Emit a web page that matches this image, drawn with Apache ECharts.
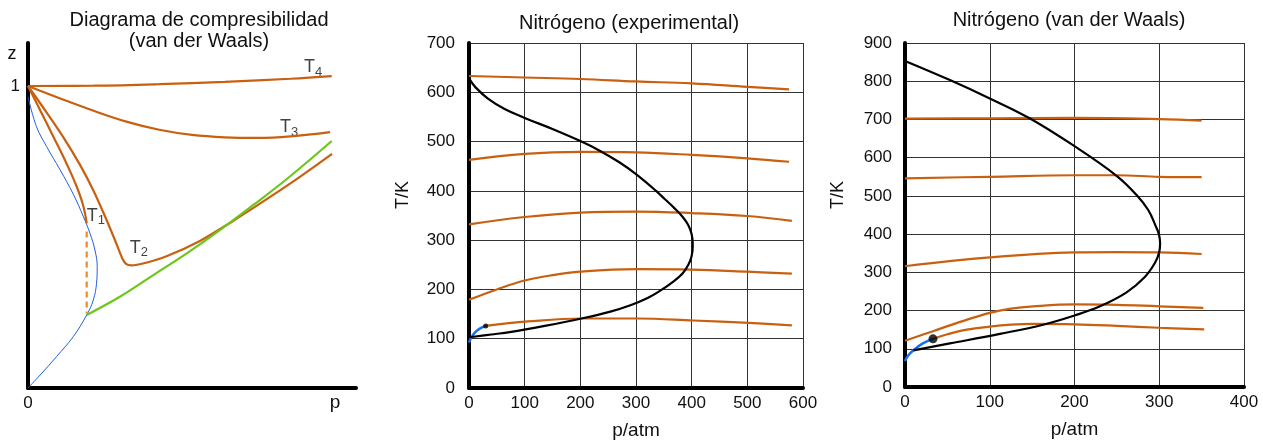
<!DOCTYPE html>
<html>
<head>
<meta charset="UTF-8">
<title>Nitrógeno</title>
<script src="https://cdn.jsdelivr.net/npm/echarts@6/dist/echarts.min.js"></script>
<style>
  html, body { margin: 0; padding: 0; background: #fff; }
  #main { width: 1263px; height: 441px; }
</style>
</head>
<body>
<div id="main"></div>
<script>
// --- panel 1: diagrama de compresibilidad (p y z en unidades arbitrarias)
var zT4 = [[0, 1.0], [2, 1.001], [4, 1.006], [6, 1.014], [8, 1.024], [9.26, 1.033]];
var zT3 = [[0, 1.0], [1, 0.958], [2, 0.918], [3, 0.882], [4, 0.855], [5, 0.838], [6, 0.83], [7, 0.828],
           [8, 0.833], [9.21, 0.847]];
var zT2 = [[0, 1.0], [0.57, 0.912], [1.08, 0.83], [1.59, 0.738], [1.99, 0.655], [2.35, 0.568], [2.65, 0.49],
           [2.88, 0.428], [3.0, 0.41], [3.15, 0.406], [3.57, 0.414], [4.24, 0.437], [5.24, 0.487],
           [6.25, 0.553], [7.29, 0.626], [8.29, 0.699], [9.27, 0.775]];
var zT1 = [[0, 1.0], [0.37, 0.92], [0.77, 0.833], [1.18, 0.742], [1.48, 0.668], [1.68, 0.605], [1.79, 0.545]];
var zT1dash = [[1.79, 0.518], [1.79, 0.247]];
var zGreen = [[1.79, 0.242], [2.8, 0.302], [3.82, 0.374], [4.84, 0.446], [5.85, 0.523], [6.87, 0.606],
              [7.89, 0.692], [9.26, 0.818]];
var zBlue = [[0, 0.965], [0.26, 0.865], [0.57, 0.799], [0.98, 0.722], [1.38, 0.642], [1.69, 0.567], [1.89, 0.512],
             [2.04, 0.457], [2.11, 0.402], [2.09, 0.347], [1.99, 0.291], [1.79, 0.242], [1.38, 0.17],
             [0.87, 0.104], [0.37, 0.043], [0, 0]];
var zLabels = [[8.69, 1.063, '4'], [7.96, 0.864, '3'], [2.07, 0.57, '1'], [3.38, 0.464, '2']];

// --- panel 2: nitrógeno experimental (p/atm, T/K)
var expIsotherms = [
  [[0, 633], [100, 630], [200, 627], [300, 622], [400, 618], [500, 611], [575, 606]],
  [[0, 463], [100, 475], [200, 479], [300, 478], [400, 473], [500, 466], [575, 459]],
  [[0, 332], [100, 347], [200, 356], [300, 358], [400, 355], [500, 349], [580, 339]],
  [[0, 179], [50, 200], [100, 218], [150, 229], [200, 236], [300, 241], [400, 240], [500, 236], [580, 232]],
  [[30, 126], [106, 135], [202, 141], [302, 141], [403, 137], [503, 132], [580, 127]]
];
var expLiquid = [[0, 92], [4, 102], [10, 112], [20, 121], [30, 126]];
var expBoundary = [[1, 103], [40, 108.5], [76, 114], [136, 126], [202, 141], [254, 155], [290, 168], [320, 182],
                   [343, 197], [367, 216], [384, 233], [394, 250], [400, 268], [402, 290], [400, 312], [394, 330],
                   [384, 347], [368, 366], [352, 383], [336, 400], [300, 434], [270, 458], [234, 482], [200, 501],
                   [151, 525], [100, 548], [64, 566], [34, 587], [11, 611], [3, 623], [0, 631]];
var expPoint = [[30, 126]];

// --- panel 3: nitrógeno van der Waals (p/atm, T/K)
var vdwIsotherms = [
  [[0, 702], [100, 703], [200, 704], [300, 701], [350, 697]],
  [[0, 546], [100, 550], [200, 554], [250, 554], [300, 550], [350, 549]],
  [[0, 316], [100, 339], [200, 352], [250, 353], [300, 352], [350, 348]],
  [[0, 121], [33, 146], [66, 171], [100, 194], [125, 205], [151, 211], [200, 216], [250, 215], [300, 211], [352, 207]],
  [[33, 126], [50, 138], [73, 150], [100, 158], [125, 163], [151, 165], [200, 164], [250, 160], [300, 155], [353, 151]]
];
var vdwLiquid = [[0, 68], [4, 83], [10, 96], [21, 114], [33, 126]];
var vdwBoundary = [[10, 96], [53, 114], [112, 139], [163, 163], [200, 187], [230, 211], [261, 247], [283, 288],
                   [295, 325], [300, 353], [301, 378], [299.5, 400], [296, 420], [287, 463], [273, 503], [250, 552],
                   [200, 630], [147, 703], [100, 755], [53, 803], [0, 853]];
var vdwPoint = [[33, 126]];

var orange = '#c9600f';
var font = 'Liberation Sans, Arial, Helvetica, sans-serif';

var chart = echarts.init(document.getElementById('main'));

function curve(data, xi, color, width, extra) {
  var s = {
    type: 'line', xAxisIndex: xi, yAxisIndex: xi, data: data, showSymbol: false, symbol: 'none',
    smooth: 0.4, silent: true, animation: false,
    lineStyle: { color: color, width: width }
  };
  for (var k in extra) s[k] = extra[k];
  return s;
}

function gridAxis(gi, max, interval, name, margin) {
  return {
    type: 'value', gridIndex: gi, min: 0, max: max, interval: interval,
    axisLine: { show: true, onZero: false, lineStyle: { color: '#000', width: 4 } },
    axisTick: { show: false },
    axisLabel: { color: '#111', fontSize: 17, fontFamily: font, margin: margin },
    splitLine: { show: true, lineStyle: { color: '#333', width: 1 } },
    name: name, nameLocation: 'middle', nameGap: 33,
    nameTextStyle: { color: '#111', fontSize: 19, fontFamily: font }
  };
}

function text(x, y, s, size, rot) {
  return { type: 'text', x: x, y: y, rotation: rot || 0,
    style: { text: s, fontSize: size, fontFamily: font, fill: '#111', align: 'center', verticalAlign: 'middle' } };
}

var series = [];
// panel 1
series.push(curve(zBlue, 0, '#1f5fe0', 1, { z: 2 }));
series.push(curve(zT4, 0, orange, 2.2));
series.push(curve(zT3, 0, orange, 2.2));
series.push(curve(zT2, 0, orange, 2.2, { smooth: 0.3 }));
series.push(curve(zT1, 0, orange, 2.2));
series.push(curve(zT1dash, 0, '#f58a2a', 2.2, { smooth: false, lineStyle: { color: '#f58a2a', width: 2.2, type: [6, 4] } }));
series.push(curve(zGreen, 0, '#6cc71a', 2.2));
series.push({
  type: 'scatter', xAxisIndex: 0, yAxisIndex: 0, symbolSize: 0, silent: true, animation: false,
  data: zLabels.map(function (d) { return { value: [d[0], d[1]], sub: d[2] }; }),
  label: {
    show: true, position: 'inside', color: '#111', fontFamily: font,
    formatter: function (p) { return '{a|T}{b|' + p.data.sub + '}'; },
    rich: {
      a: { fontSize: 18, fontFamily: font, color: '#111' },
      b: { fontSize: 13, fontFamily: font, color: '#111', padding: [10, 0, 0, 0] }
    }
  }
});
// panel 2
expIsotherms.forEach(function (d) { series.push(curve(d, 1, orange, 2.2)); });
series.push(curve(expLiquid, 1, '#1a6ef0', 2.5));
series.push(curve(expBoundary, 1, '#000', 2.2, { z: 3 }));
series.push({ type: 'scatter', xAxisIndex: 1, yAxisIndex: 1, data: expPoint, symbolSize: 5,
  itemStyle: { color: '#000' }, silent: true, animation: false, z: 4 });
// panel 3
vdwIsotherms.forEach(function (d) { series.push(curve(d, 2, orange, 2.2)); });
series.push(curve(vdwLiquid, 2, '#1a6ef0', 2.5));
series.push(curve(vdwBoundary, 2, '#000', 2.2, { z: 3 }));
series.push({ type: 'scatter', xAxisIndex: 2, yAxisIndex: 2, data: vdwPoint, symbolSize: 9,
  itemStyle: { color: '#000' }, silent: true, animation: false, z: 4 });

var option = {
  backgroundColor: '#fff',
  animation: false,
  grid: [
    { left: 28, top: 43, width: 328, height: 345, outerBoundsMode: 'none' },
    { left: 469, top: 43, width: 334, height: 345, outerBoundsMode: 'none' },
    { left: 905, top: 43, width: 339, height: 344, outerBoundsMode: 'none' }
  ],
  xAxis: [
    {
      type: 'value', gridIndex: 0, min: 0, max: 10, interval: 10,
      axisLine: { show: true, onZero: false, lineStyle: { color: '#000', width: 4 } },
      axisTick: { show: false }, splitLine: { show: false },
      axisLabel: { color: '#111', fontSize: 17, fontFamily: font, margin: 7,
        formatter: function (v) { return v === 0 ? '0' : ''; } }
    },
    gridAxis(1, 600, 100, 'p/atm', 7),
    gridAxis(2, 400, 100, 'p/atm', 7)
  ],
  yAxis: [
    {
      type: 'value', gridIndex: 0, min: 0, max: 1.1424, interval: 1,
      axisLine: { show: true, onZero: false, lineStyle: { color: '#000', width: 4 } },
      axisTick: { show: false }, splitLine: { show: false },
      axisLabel: { color: '#111', fontSize: 17, fontFamily: font, margin: 8,
        formatter: function (v) { return v === 1 ? '1' : ''; } }
    },
    gridAxis(1, 700, 100, '', 14),
    gridAxis(2, 900, 100, '', 13)
  ],
  graphic: [
    text(199, 20, 'Diagrama de compresibilidad', 20),
    text(199, 41, '(van der Waals)', 20),
    text(629, 23, 'Nitrógeno (experimental)', 20),
    text(1069, 20, 'Nitrógeno (van der Waals)', 20),
    text(12, 54, 'z', 18),
    text(335, 403, 'p', 19),
    text(403, 195, 'T/K', 18, Math.PI / 2),
    text(838, 195, 'T/K', 18, Math.PI / 2)
  ],
  series: series
};

chart.setOption(option);
</script>
</body>
</html>
